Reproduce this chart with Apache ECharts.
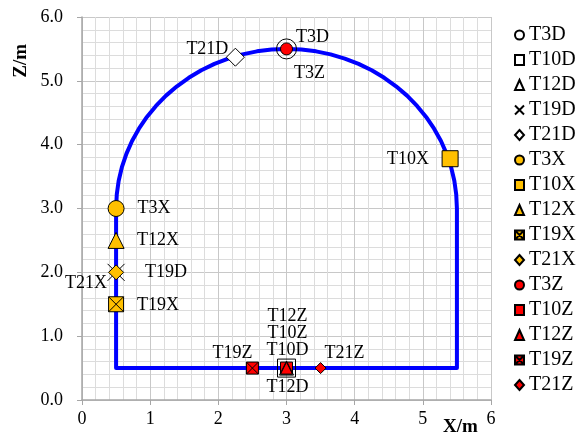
<!DOCTYPE html>
<html>
<head>
<meta charset="utf-8">
<script src="https://cdn.jsdelivr.net/npm/echarts@6/dist/echarts.min.js"></script>
<style>
  html, body { margin: 0; padding: 0; background: #fff; }
  #chart { width: 582px; height: 436px; }
</style>
</head>
<body>
<div id="chart"></div>
<script>
// Tunnel outline: left wall, floor, right wall, then the crown arch
// (centre 3,3, radius 2.5, every 5 degrees) back to the left wall
const outlineX = [0.5, 0.5, 5.5,
                  5.5, 5.490, 5.462, 5.415, 5.349, 5.266, 5.165, 5.048, 4.915,
                  4.768, 4.607, 4.434, 4.25, 4.057, 3.855, 3.647, 3.434, 3.218,
                  3.0,
                  2.782, 2.566, 2.353, 2.145, 1.943, 1.75, 1.566, 1.393, 1.232,
                  1.085, 0.952, 0.835, 0.734, 0.651, 0.585, 0.538, 0.510, 0.5];
const outlineZ = [3.0, 0.5, 0.5,
                  3.0, 3.218, 3.434, 3.647, 3.855, 4.057, 4.25, 4.434, 4.607,
                  4.768, 4.915, 5.048, 5.165, 5.266, 5.349, 5.415, 5.462, 5.490,
                  5.5,
                  5.490, 5.462, 5.415, 5.349, 5.266, 5.165, 5.048, 4.915, 4.768,
                  4.607, 4.434, 4.25, 4.057, 3.855, 3.647, 3.434, 3.218, 3.0];

// Measurement points
const pointNames = ['T3D', 'T10D', 'T12D', 'T19D', 'T21D',
                    'T3X', 'T10X', 'T12X', 'T19X', 'T21X',
                    'T3Z', 'T10Z', 'T12Z', 'T19Z', 'T21Z'];
const pointX = [3.0, 3.0, 3.0, 0.5, 2.25,
                0.5, 5.4, 0.5, 0.5, 0.5,
                3.0, 3.0, 3.0, 2.5, 3.5];
const pointZ = [5.5, 0.5, 0.5, 2.0, 5.37,
                3.0, 3.78, 2.5, 1.5, 2.0,
                5.5, 0.5, 0.5, 0.5, 0.5];

const xTicks = [0, 1, 2, 3, 4, 5, 6];
const zTicks = [0, 1, 2, 3, 4, 5, 6];

const FONT = 'Liberation Serif';
const ORANGE = '#FFC000';
const RED = '#FF0000';
const CROSS = 'path://M0,0L10,10M10,0L0,10';
const BOXCROSS = 'path://M0,0L10,0L10,10L0,10ZM0,0L10,10M10,0L0,10';

// marker style and label placement per point
const styles = {
  T3D:  { symbol: 'circle',   size: 20, color: 'rgba(0,0,0,0)', z: 6, off: [26, -12] },
  T10D: { symbol: 'rect',     size: 18, color: 'rgba(0,0,0,0)', z: 6, off: [1, -18] },
  T12D: { symbol: 'triangle', size: 14, color: 'rgba(0,0,0,0)', z: 7, off: [1, 19] },
  T19D: { symbol: CROSS,      size: 17, color: 'rgba(0,0,0,0)', z: 3, off: [50, 0] },
  T21D: { symbol: 'diamond',  size: 18, color: '#ffffff',       z: 6, off: [-28, -8] },
  T3X:  { symbol: 'circle',   size: 16, color: ORANGE, z: 4, off: [38, 0] },
  T10X: { symbol: 'rect',     size: 16, color: ORANGE, z: 4, off: [-42, 1] },
  T12X: { symbol: 'triangle', size: 16, color: ORANGE, z: 4, off: [42, 0] },
  T19X: { symbol: BOXCROSS,   size: 15, color: ORANGE, z: 4, off: [42, 1] },
  T21X: { symbol: 'diamond',  size: 15, color: ORANGE, z: 4, off: [-30, 11] },
  T3Z:  { symbol: 'circle',   size: 12, color: RED, z: 5, off: [23, 24] },
  T10Z: { symbol: 'rect',     size: 12, color: RED, z: 5, off: [1, -35] },
  T12Z: { symbol: 'triangle', size: 12, color: RED, z: 5, off: [1, -52] },
  T19Z: { symbol: BOXCROSS,   size: 12, color: RED, z: 5, off: [-20, -15] },
  T21Z: { symbol: 'diamond',  size: 11, color: RED, z: 5, off: [24, -15] }
};

const pointSeries = pointNames.map((name, i) => {
  const s = styles[name];
  return {
    name: name,
    type: 'scatter',
    z: s.z,
    symbol: s.symbol,
    symbolSize: s.size,
    itemStyle: { color: s.color, borderColor: '#000', borderWidth: 1, opacity: 1 },
    label: {
      show: true,
      position: 'inside',
      offset: s.off,
      formatter: name,
      color: '#000',
      fontFamily: FONT,
      fontSize: 18
    },
    emphasis: { disabled: true },
    data: [[pointX[i], pointZ[i]]]
  };
});

const chart = echarts.init(document.getElementById('chart'), null, { renderer: 'canvas' });

chart.setOption({
  animation: false,
  backgroundColor: '#ffffff',
  grid: { left: 82, right: 91, top: 17, bottom: 36, containLabel: false },
  xAxis: {
    type: 'value', min: xTicks[0], max: xTicks[xTicks.length - 1], interval: 1,
    axisLine: { show: true, onZero: false, lineStyle: { color: '#a6a6a6', width: 1.5 } },
    axisTick: { show: true, length: 5, lineStyle: { color: '#a6a6a6' } },
    axisLabel: { color: '#000', fontFamily: FONT, fontSize: 18, margin: 10 },
    splitLine: { show: true, lineStyle: { color: '#c8c8c8', width: 1 } },
    minorTick: { show: false, splitNumber: 5 },
    minorSplitLine: { show: true, lineStyle: { color: '#dcdcdc', width: 1 } }
  },
  yAxis: {
    type: 'value', min: zTicks[0], max: zTicks[zTicks.length - 1], interval: 1,
    axisLine: { show: true, onZero: false, lineStyle: { color: '#a6a6a6', width: 1.5 } },
    axisTick: { show: true, length: 5, lineStyle: { color: '#a6a6a6' } },
    axisLabel: { color: '#000', fontFamily: FONT, fontSize: 18, margin: 19,
                 formatter: v => v.toFixed(1) },
    splitLine: { show: true, lineStyle: { color: '#c8c8c8', width: 1 } },
    minorTick: { show: false, splitNumber: 5 },
    minorSplitLine: { show: true, lineStyle: { color: '#dcdcdc', width: 1 } }
  },
  legend: {
    orient: 'vertical',
    left: 509, top: 20,
    itemWidth: 9, itemHeight: 10,
    itemGap: 5,
    data: pointNames,
    textStyle: { color: '#000', fontFamily: FONT, fontSize: 20 },
    selectedMode: false
  },
  graphic: [
    { type: 'text', left: 12, top: 44, rotation: Math.PI / 2,
      style: { text: 'Z/m', font: 'bold 19px "Liberation Serif"', fill: '#000' } },
    { type: 'text', left: 443, top: 418,
      style: { text: 'X/m', font: 'bold 19px "Liberation Serif"', fill: '#000' } }
  ],
  series: [
    {
      type: 'line', name: 'outline', z: 2,
      data: outlineX.map((x, i) => [x, outlineZ[i]]),
      showSymbol: false, symbol: 'none',
      lineStyle: { color: '#0000ff', width: 4, join: 'round' },
      emphasis: { disabled: true }
    }
  ].concat(pointSeries)
});
</script>
</body>
</html>
